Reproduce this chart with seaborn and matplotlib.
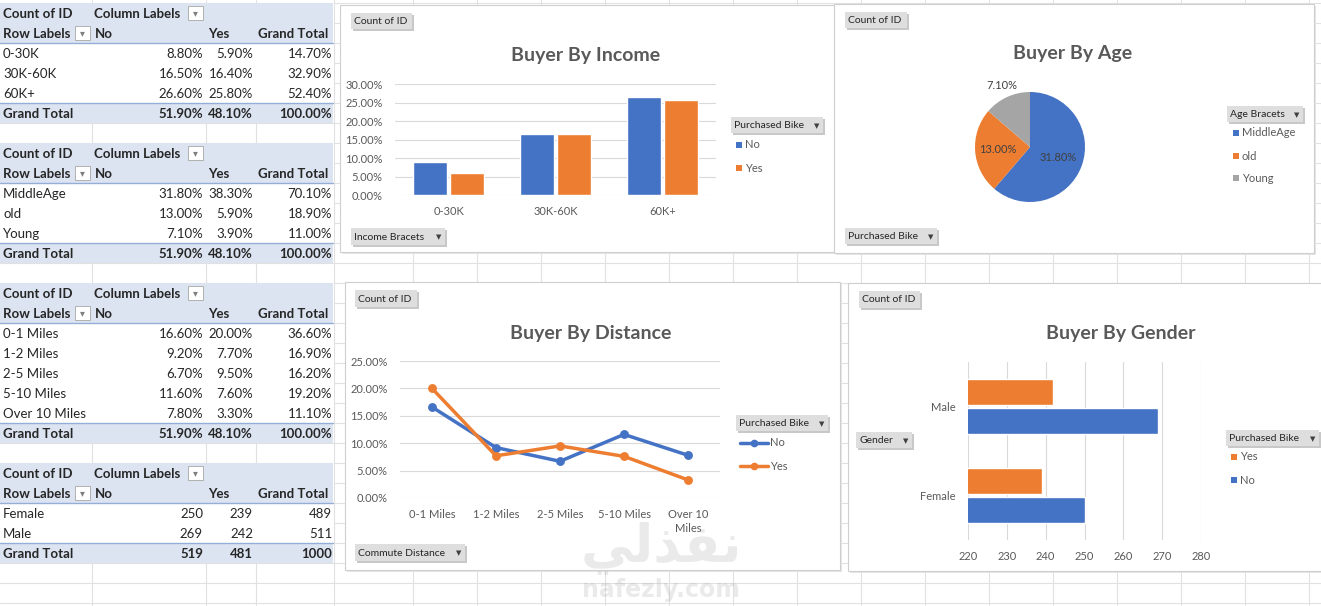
import numpy as np
import pandas as pd
import matplotlib
matplotlib.use('Agg')
import matplotlib.pyplot as plt
import seaborn as sns
from matplotlib.patches import Rectangle
from matplotlib.ticker import FuncFormatter

# ---- data (percent of all customers, counts for gender) ----
income_cats = ['0-30K', '30K-60K', '60K+']
income_no = [8.8, 16.5, 26.6]
income_yes = [5.9, 16.4, 25.8]

age_cats = ['MiddleAge', 'old', 'Young']
age_no = [31.8, 13.0, 7.1]
age_yes = [38.3, 5.9, 3.9]

dist_cats = ['0-1 Miles', '1-2 Miles', '2-5 Miles', '5-10 Miles', 'Over 10 Miles']
dist_no = [16.6, 9.2, 6.7, 11.6, 7.8]
dist_yes = [20.0, 7.7, 9.5, 7.6, 3.3]

gender_cats = ['Female', 'Male']
gender_no = [250, 269]
gender_yes = [239, 242]

income_ticks = [0, 5, 10, 15, 20, 25, 30]
dist_ticks = [0, 5, 10, 15, 20, 25]
gender_ticks = [220, 230, 240, 250, 260, 270, 280]

BLUE = '#4472C4'
ORANGE = '#ED7D31'
GREY = '#A5A5A5'
HEAD = '#DCE4F2'
BORDER = '#95AED8'
GRID = '#D9D9D9'
TXT = '#595959'
W, H = 1321, 606

sns.set_theme(style='white')
plt.rcParams['font.family'] = ['Lato', 'DejaVu Sans']

fig = plt.figure(figsize=(W / 100, H / 100), dpi=100)
fig.patch.set_facecolor('white')
bg = fig.add_axes([0, 0, 1, 1], zorder=0)
bg.set_xlim(0, W)
bg.set_ylim(H, 0)
bg.axis('off')


def px_axes(x0, y0, x1, y1):
    ax = fig.add_axes([x0 / W, 1 - y1 / H, (x1 - x0) / W, (y1 - y0) / H], zorder=2)
    ax.patch.set_alpha(0)
    return ax


# ---- spreadsheet grid ----
for y in range(3, H, 20):
    bg.plot([0, W], [y, y], color='#E1E1E1', lw=0.8, zorder=0.5)
for x in [92, 206, 256, 334] + list(range(413, W, 64)):
    bg.plot([x, x], [0, H], color='#E1E1E1', lw=0.8, zorder=0.5)


# ---- pivot tables ----
def dropdown(x0, y0):
    bg.add_patch(Rectangle((x0, y0), 15, 14, fc='white', ec='#B0B0B0', lw=0.7, zorder=2))
    bg.text(x0 + 7.5, y0 + 7.5, '▾', fontsize=7, color='#7F7F7F', ha='center', va='center', zorder=3)


def pivot(top, labels, no, yes, fmt):
    n = len(labels)
    bg.add_patch(Rectangle((0, top), 334, 20 * (n + 3), fc='white', ec='none', zorder=1))
    for r in (0, 1, n + 2):
        bg.add_patch(Rectangle((0, top + 20 * r), 333, 20, fc=HEAD, ec='none', zorder=1.5))
    bg.plot([0, 333], [top + 40, top + 40], color=BORDER, lw=1, zorder=2)
    bg.plot([0, 333], [top + 20 * (n + 2)] * 2, color=BORDER, lw=1, zorder=2)
    fs = 9.5
    t = top + 1.5
    bg.text(3, t + 10, 'Count of ID', fontsize=fs, weight='bold', va='center', zorder=3)
    bg.text(94, t + 10, 'Column Labels', fontsize=fs, weight='bold', va='center', zorder=3)
    dropdown(188, top + 3)
    bg.text(3, t + 30, 'Row Labels', fontsize=fs, weight='bold', va='center', zorder=3)
    dropdown(75, top + 23)
    bg.text(95, t + 30, 'No', fontsize=fs, weight='bold', va='center', zorder=3)
    bg.text(208, t + 30, 'Yes', fontsize=fs, weight='bold', va='center', zorder=3)
    bg.text(258, t + 30, 'Grand Total', fontsize=fs, weight='bold', va='center', zorder=3)
    for i, (lab, a, b) in enumerate(zip(labels, no, yes)):
        y = t + 50 + 20 * i
        bg.text(3, y, lab, fontsize=fs, va='center', zorder=3)
        for xr, v in ((203, a), (253, b), (332, round(a + b, 2))):
            bg.text(xr, y, fmt(v), fontsize=fs, va='center', ha='right', zorder=3)
    y = t + 20 * (n + 2) + 10
    tot_no, tot_yes = round(sum(no), 2), round(sum(yes), 2)
    bg.text(3, y, 'Grand Total', fontsize=fs, weight='bold', va='center', zorder=3)
    for xr, v in ((203, tot_no), (253, tot_yes), (332, round(tot_no + tot_yes, 2))):
        bg.text(xr, y, fmt(v), fontsize=fs, weight='bold', va='center', ha='right', zorder=3)


pct_fmt = lambda v: f'{v:.2f}%'
cnt_fmt = lambda v: f'{int(v)}'
pivot(3, income_cats, income_no, income_yes, pct_fmt)
pivot(143, age_cats, age_no, age_yes, pct_fmt)
pivot(283, dist_cats, dist_no, dist_yes, pct_fmt)
pivot(463, gender_cats, gender_no, gender_yes, cnt_fmt)


# ---- chart frames, buttons, legends ----
def chart_box(x0, y0, x1, y1):
    bg.add_patch(Rectangle((x0 + 2, y0 + 2), x1 - x0, y1 - y0, fc='#E6E6E6', ec='none', zorder=2))
    bg.add_patch(Rectangle((x0, y0), x1 - x0, y1 - y0, fc='white', ec='#CFCFCF', lw=0.8, zorder=2.1))


def button(x0, y0, x1, y1, text, arrow=True):
    bg.add_patch(Rectangle((x0 + 1.5, y0 + 1.5), x1 - x0, y1 - y0, fc='#C8C8C8', ec='none', zorder=3))
    bg.add_patch(Rectangle((x0, y0), x1 - x0, y1 - y0, fc='#DEDEDE', ec='none', zorder=3.1))
    bg.text(x0 + 3, (y0 + y1) / 2 + 0.5, text, fontsize=7.5, color='#262626', va='center', zorder=4)
    if arrow:
        bg.text(x1 - 6, (y0 + y1) / 2 + 0.5, '▼', fontsize=5, color='#404040', ha='center', va='center', zorder=4)


def title(x, y, text):
    bg.text(x, y, text, fontsize=14, weight='bold', color=TXT, ha='center', va='center', zorder=4)


def sq_legend(x, ys, names, colors):
    for y, n, c in zip(ys, names, colors):
        bg.add_patch(Rectangle((x, y - 3), 6, 6, fc=c, ec='none', zorder=4))
        bg.text(x + 9, y, n, fontsize=8, color=TXT, va='center', zorder=4)


chart_box(340, 5, 835, 252)
chart_box(834, 4, 1314, 253)
chart_box(345, 282, 840, 570)
chart_box(848, 283, 1326, 571)

button(351, 13, 412, 29, 'Count of ID', arrow=False)
button(351, 228, 445, 245, 'Income Bracets')
button(731, 117, 823, 133, 'Purchased Bike')
button(845, 12, 907, 28, 'Count of ID', arrow=False)
button(845, 228, 937, 244, 'Purchased Bike')
button(1227, 106, 1303, 122, 'Age Bracets')
button(355, 290, 417, 307, 'Count of ID', arrow=False)
button(355, 544, 465, 561, 'Commute Distance')
button(736, 415, 828, 431, 'Purchased Bike')
button(859, 291, 920, 308, 'Count of ID', arrow=False)
button(856, 432, 912, 448, 'Gender')
button(1226, 430, 1319, 446, 'Purchased Bike')

title(586, 55, 'Buyer By Income')
title(1073, 54, 'Buyer By Age')
title(591, 333, 'Buyer By Distance')
title(1121, 334, 'Buyer By Gender')

sq_legend(736, [145, 168], ['No', 'Yes'], [BLUE, ORANGE])
sq_legend(1233, [133, 156, 178], age_cats, [BLUE, ORANGE, GREY])
sq_legend(1231, [457, 480], ['Yes', 'No'], [ORANGE, BLUE])
for y, n, c in ((443, 'No', BLUE), (466, 'Yes', ORANGE)):
    bg.plot([740, 768], [y, y], color=c, lw=2.5, zorder=4, solid_capstyle='round')
    bg.plot([754], [y], 'o', color=c, ms=4.5, zorder=4.1)
    bg.text(770, y, n, fontsize=8, color=TXT, va='center', zorder=4)


def style_axis(ax):
    sns.despine(ax=ax, left=True, bottom=True)
    ax.set_xlabel('')
    ax.set_ylabel('')
    ax.set_axisbelow(True)
    ax.tick_params(length=0, labelsize=8, labelcolor=TXT)


# ---- Buyer By Income ----
ax1 = px_axes(395, 84, 716, 195)
df_inc = pd.DataFrame({'bracket': income_cats * 2,
                       'pct': income_no + income_yes,
                       'bought': ['No'] * len(income_cats) + ['Yes'] * len(income_cats)})
sns.barplot(data=df_inc, x='bracket', y='pct', hue='bought', hue_order=['No', 'Yes'],
            palette=[BLUE, ORANGE], saturation=1, width=0.69, gap=0.1, legend=False, ax=ax1)
ax1.set_xlim(-0.5, len(income_cats) - 0.5)
ax1.set_ylim(0, 30)
ax1.set_yticks(income_ticks)
ax1.yaxis.set_major_formatter(FuncFormatter(lambda v, p: f'{v:.2f}%'))
ax1.grid(axis='y', color=GRID, lw=0.8)
style_axis(ax1)
ax1.tick_params(axis='y', pad=9)
ax1.tick_params(axis='x', pad=8)

# ---- Buyer By Age ----
ax2 = px_axes(975, 92, 1085, 202)
wedges, _ = ax2.pie(age_no, colors=[BLUE, ORANGE, GREY], startangle=90, counterclock=False,
                    radius=1, wedgeprops=dict(linewidth=0))
ax2.set_xlim(-1, 1)
ax2.set_ylim(-1, 1)
for w, v, d in zip(wedges, age_no, [0.55, 0.58, 1.24]):
    ang = np.deg2rad((w.theta1 + w.theta2) / 2)
    ax2.text(d * np.cos(ang), d * np.sin(ang), f'{v:.2f}%', fontsize=8, color='#404040',
             ha='center', va='center', clip_on=False)

# ---- Buyer By Distance ----
ax3 = px_axes(400, 361, 720, 498)
df_d = pd.DataFrame({'distance': dist_cats * 2,
                     'pct': dist_no + dist_yes,
                     'bought': ['No'] * len(dist_cats) + ['Yes'] * len(dist_cats)})
sns.pointplot(data=df_d, x='distance', y='pct', hue='bought', hue_order=['No', 'Yes'],
              palette=[BLUE, ORANGE], markers='o', markersize=4.5, linewidth=2.5,
              errorbar=None, legend=False, ax=ax3)
ax3.set_xlim(-0.5, len(dist_cats) - 0.5)
ax3.set_ylim(0, 25)
ax3.set_yticks(dist_ticks)
ax3.yaxis.set_major_formatter(FuncFormatter(lambda v, p: f'{v:.2f}%'))
ax3.set_xticks(range(len(dist_cats)))
ax3.set_xticklabels([c.replace('Over 10 ', 'Over 10\n') for c in dist_cats])
for lab in ax3.get_xticklabels():
    lab.set_linespacing(1.35)
ax3.grid(axis='y', color=GRID, lw=0.8)
style_axis(ax3)
ax3.tick_params(axis='y', pad=9)
ax3.tick_params(axis='x', pad=8)

# ---- Buyer By Gender ----
ax4 = px_axes(968, 362, 1201, 540)
df_g = pd.DataFrame({'gender': gender_cats * 2,
                     'count': gender_no + gender_yes,
                     'bought': ['No'] * len(gender_cats) + ['Yes'] * len(gender_cats)})
sns.barplot(data=df_g, y='gender', x='count', hue='bought', order=['Male', 'Female'],
            hue_order=['Yes', 'No'], palette=[ORANGE, BLUE], orient='h', saturation=1,
            width=0.65, gap=0.1, legend=False, ax=ax4)
ax4.set_xlim(gender_ticks[0], gender_ticks[-1])
ax4.set_xticks(gender_ticks)
ax4.grid(axis='x', color=GRID, lw=0.8)
style_axis(ax4)
ax4.tick_params(axis='x', pad=8)
ax4.tick_params(axis='y', pad=9)

# ---- watermark ----
fig.text(661 / W, 1 - 548 / H, '\uFEF2\uFEDF\uFEAC\uFED4\uFEE7', family='DejaVu Sans',
         fontsize=38, weight='bold', color='#9A9A9A', alpha=0.2, ha='center', va='center', zorder=10)
fig.text(661 / W, 1 - 590 / H, 'nafezly.com', family='DejaVu Sans', fontsize=17, weight='bold',
         color='#9A9A9A', alpha=0.2, ha='center', va='center', zorder=10)

fig.savefig('out.png', dpi=100, facecolor='white')
